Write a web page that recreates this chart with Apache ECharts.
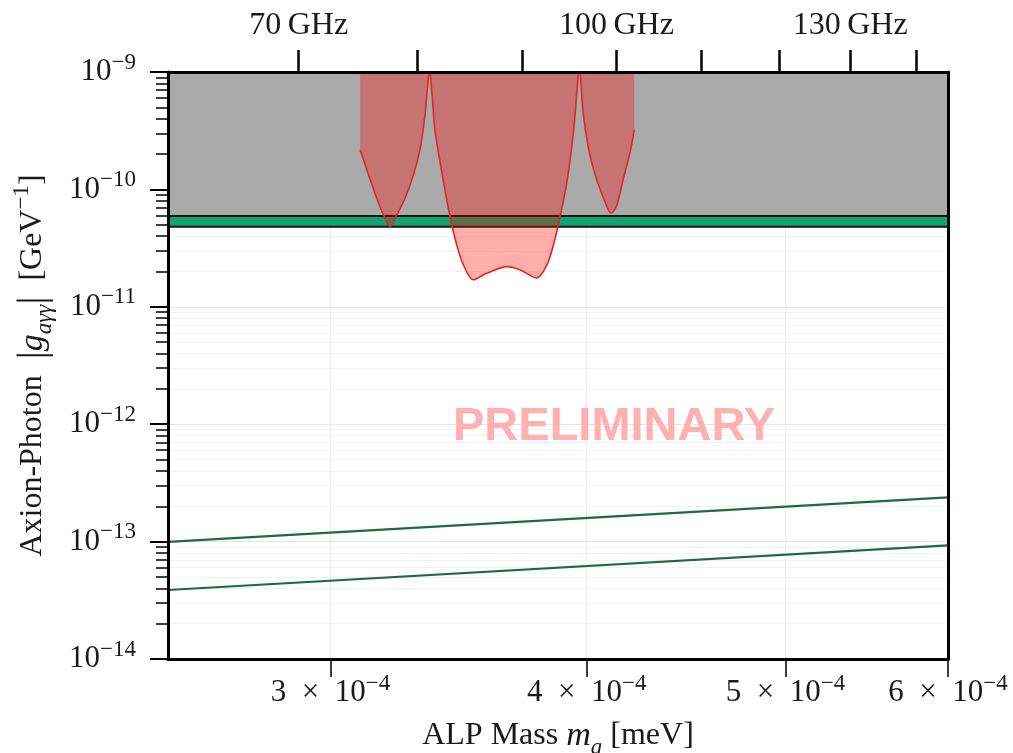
<!DOCTYPE html>
<html>
<head>
<meta charset="utf-8">
<script src="https://cdn.jsdelivr.net/npm/echarts@6/dist/echarts.min.js"></script>
<style>
html, body { margin: 0; background: #fff; }
#main { width: 1013px; height: 753px; }
</style>
</head>
<body>
<div id="main"></div>
<script>
// axis ranges (mass axis is log, coupling axis is log)
var massMin = 2.5e-4, massMax = 6.0001e-4;
var gMin = 0.9999e-14, gMax = 1.0001e-9;
var GHZ = 4.1357e-6; // one GHz in mass-axis units

// tick values
var massTicks = [3e-4, 4e-4, 5e-4, 5.99999e-4];
var freqTicks = [70, 80, 90, 100, 110, 120, 130, 140];
var freqLabels = [70, 100, 130];
var gMajor = [1e-14, 1e-13, 1e-12, 1e-11, 1e-10, 1e-9];
var gMinor = [];
for (var e = -14; e < -9; e++) {
    for (var k = 2; k <= 9; k++) gMinor.push(k * Math.pow(10, e));
}

// grey excluded region + green band
var bandLow = 4.8e-11, bandHigh = 5.93e-11;

// red exclusion lobes
var lobe1Mass = [3.102e-4, 3.131e-4, 3.160e-4, 3.184e-4, 3.208e-4, 3.232e-4, 3.262e-4, 3.293e-4, 3.318e-4, 3.336e-4, 3.346e-4, 3.351e-4];
var lobe1G    = [2.17e-10, 1.33e-10, 8.4e-11, 6.05e-11, 4.81e-11, 6.05e-11, 8.4e-11, 1.33e-10, 2.24e-10, 4.3e-10, 7.75e-10, 1e-9];
var lobe2Mass = [3.355e-4, 3.364e-4, 3.374e-4, 3.406e-4, 3.431e-4, 3.457e-4, 3.483e-4, 3.522e-4, 3.575e-4, 3.657e-4, 3.712e-4, 3.782e-4, 3.825e-4, 3.853e-4, 3.882e-4, 3.912e-4, 3.941e-4, 3.956e-4, 3.963e-4];
var lobe2G    = [1e-9, 5.77e-10, 3.1e-10, 1.16e-10, 5.85e-11, 3.36e-11, 2.27e-11, 1.7e-11, 1.93e-11, 2.2e-11, 2.06e-11, 1.76e-11, 2.27e-11, 3.36e-11, 5.85e-11, 1.16e-10, 3.1e-10, 6.8e-10, 1e-9];
var lobe3Mass = [3.971e-4, 3.985e-4, 4.008e-4, 4.038e-4, 4.076e-4, 4.100e-4, 4.110e-4, 4.122e-4, 4.138e-4, 4.168e-4, 4.200e-4, 4.219e-4];
var lobe3G    = [1e-9, 4.3e-10, 2.24e-10, 1.33e-10, 8.4e-11, 6.6e-11, 6.26e-11, 6.5e-11, 7.36e-11, 1.24e-10, 2.1e-10, 3.21e-10];

// model lines
var lineMass = [2.5e-4, 6e-4];
var ksvzG = [9.93e-14, 2.38e-13];
var dfszG = [3.87e-14, 9.29e-14];

var SERIF = 'Liberation Serif';
var INK = '#1a1a1a';

function pairs(xs, ys) {
    var out = [];
    for (var i = 0; i < xs.length; i++) out.push([xs[i], ys[i]]);
    return out;
}

var tickRich = {
    b: { fontFamily: SERIF, fontSize: 31, lineHeight: 42, color: INK },
    s: { fontFamily: SERIF, fontSize: 23, lineHeight: 24, verticalAlign: 'top', color: INK }
};
var nameRich = {
    r: { fontFamily: SERIF, fontSize: 32, lineHeight: 46, color: INK },
    bar: { fontFamily: SERIF, fontSize: 40, lineHeight: 46, color: INK },
    i: { fontFamily: SERIF, fontSize: 34, lineHeight: 46, fontStyle: 'italic', color: INK },
    sub: { fontFamily: SERIF, fontSize: 23, lineHeight: 34, fontStyle: 'italic', verticalAlign: 'bottom', color: INK },
    sup: { fontFamily: SERIF, fontSize: 23, lineHeight: 26, verticalAlign: 'top', color: INK }
};

function gridAxis(values, color) {
    return {
        type: 'log', min: gMin, max: gMax, position: 'left', z: 0,
        axisLine: { show: false },
        axisTick: { show: false, customValues: values },
        axisLabel: { show: false },
        splitLine: { show: true, lineStyle: { color: color, width: 1 } }
    };
}

function lobe(xs, ys) {
    return {
        type: 'line',
        data: pairs(xs, ys),
        symbol: 'none',
        smooth: 0.3,
        z: 4,
        lineStyle: { color: '#e3261f', width: 1.6 },
        areaStyle: { color: 'rgba(255,0,0,0.32)', origin: gMax, opacity: 1 }
    };
}

var chart = echarts.init(document.getElementById('main'));
chart.setOption({
    animation: false,
    grid: { left: 168, right: 65, top: 72, bottom: 94, containLabel: false, outerBoundsMode: 'none' },
    xAxis: [
        {
            type: 'log', min: massMin, max: massMax, position: 'bottom', z: 0,
            axisLine: { lineStyle: { color: '#000', width: 3 } },
            axisTick: { customValues: massTicks, length: 18, lineStyle: { color: '#000', width: 1.5 } },
            axisLabel: {
                customValues: massTicks, margin: 13, rich: tickRich,
                formatter: function (v) {
                    var p = Math.floor(Math.log10(v));
                    return '{b|' + Math.round(v / Math.pow(10, p)) + '\u2002×\u200210}{s|−' + (-p) + '}';
                }
            },
            splitLine: { show: true, lineStyle: { color: '#ececec', width: 1 } },
            name: '{r|ALP Mass }{i|m}{sub|a}{r| [meV]}',
            nameLocation: 'middle', nameGap: 54,
            nameTextStyle: { rich: nameRich }
        },
        {
            type: 'log', min: massMin / GHZ, max: massMax / GHZ, position: 'top', z: 10,
            axisLine: { lineStyle: { color: '#000', width: 3 } },
            axisTick: { customValues: freqTicks, length: 22, lineStyle: { color: '#000', width: 2.5 } },
            axisLabel: {
                customValues: freqLabels, margin: 30,
                fontFamily: SERIF, fontSize: 32, color: INK,
                formatter: function (v) { return Math.round(v) + '\u2009GHz'; }
            },
            splitLine: { show: false }
        }
    ],
    yAxis: [
        {
            type: 'log', min: gMin, max: gMax, position: 'left', z: 10,
            axisLine: { lineStyle: { color: '#000', width: 3 } },
            axisTick: { customValues: gMajor, length: 18, lineStyle: { color: '#000', width: 2 } },
            axisLabel: {
                customValues: gMajor, margin: 32, rich: tickRich,
                formatter: function (v) {
                    var p = Math.round(Math.log10(v));
                    return '{b|10}{s|−' + (-p) + '}';
                }
            },
            splitLine: { show: false },
            name: '{r|Axion-Photon\u2002}{bar||}{i|g}{sub|aγγ}{bar||}{r|\u2002[GeV}{sup|−1}{r|]}',
            nameLocation: 'middle', nameRotate: 90, nameGap: 112,
            nameTextStyle: { rich: nameRich }
        },
        {
            type: 'log', min: gMin, max: gMax, position: 'left', z: 10,
            axisLine: { show: false },
            axisTick: { customValues: gMinor, length: 12, lineStyle: { color: '#000', width: 1.5 } },
            axisLabel: { show: false },
            splitLine: { show: false }
        },
        gridAxis(gMajor, '#e6e6e6'),
        gridAxis(gMinor, '#f1f1f1'),
        {
            type: 'log', min: gMin, max: gMax, position: 'right', z: 10,
            axisLine: { lineStyle: { color: '#000', width: 3 } },
            axisTick: { show: false },
            axisLabel: { show: false },
            splitLine: { show: false }
        }
    ],
    graphic: [{
        type: 'text', left: 453, top: 404, z: 20,
        style: { text: 'PRELIMINARY', font: 'bold 47px "Liberation Sans"', fill: '#ffb0b0' }
    }],
    series: [
        {
            type: 'line', data: pairs([massMin, massMax], [bandLow, bandLow]), symbol: 'none', z: 2,
            lineStyle: { color: '#111', width: 2 },
            areaStyle: { color: '#12a470', origin: gMax, opacity: 1 }
        },
        {
            type: 'line', data: pairs([massMin, massMax], [bandHigh, bandHigh]), symbol: 'none', z: 3,
            lineStyle: { color: '#111', width: 2 },
            areaStyle: { color: '#aaaaaa', origin: gMax, opacity: 1 }
        },
        lobe(lobe1Mass, lobe1G),
        lobe(lobe2Mass, lobe2G),
        lobe(lobe3Mass, lobe3G),
        {
            type: 'line', data: pairs(lineMass, ksvzG), symbol: 'none', z: 5,
            lineStyle: { color: '#1d6b3f', width: 2.2 }
        },
        {
            type: 'line', data: pairs(lineMass, dfszG), symbol: 'none', z: 5,
            lineStyle: { color: '#1d6b3f', width: 2.2 }
        }
    ]
});
</script>
</body>
</html>
